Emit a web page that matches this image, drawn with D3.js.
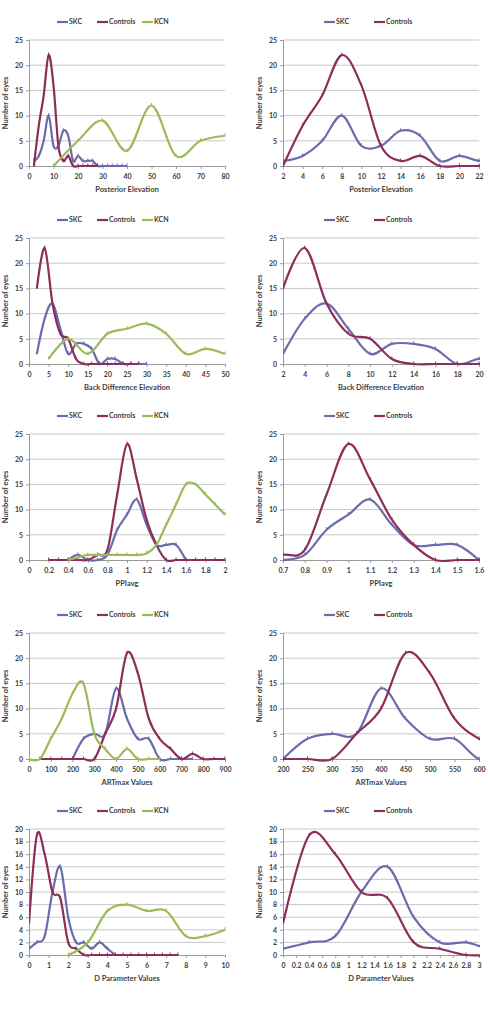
<!DOCTYPE html>
<html>
<head>
<meta charset="utf-8">
<script src="https://cdn.jsdelivr.net/npm/d3@7"></script>
<style>
  body { margin: 0; background: #fff; }
  text { font-family: Lato, "Liberation Sans", Arial, sans-serif; font-weight: bold; fill: #404040; }
</style>
</head>
<body>
<div id="chart"></div>
<script>
// ---------- data ----------
// Posterior Elevation
var peSkcX  = [2,4,6,8,10,12,14,16,18,20,22,24,26,28,30,32,34,36,38,40];
var peSkc   = [1,2,5,10,4,4,7,6,1,2,1,1,1,0,0,0,0,0,0,0];
var peCtrlX = [2,4,6,8,10,12,14,16,18,20,22,24,26,28];
var peCtrl  = [0,8,14,22,16,4,1,2,0,0,0,0,0,0];
var peKcnX  = [10,20,30,40,50,60,70,80];
var peKcn   = [0,5,9,3,12,2,5,6];

// Back Difference Elevation
var bdSkcX  = [2,4,6,8,10,12,14,16,18,20,22,24,26,28,30];
var bdSkc   = [2,9,12,7,2,4,4,3,0,1,1,0,0,0,0];
var bdCtrlX = [2,4,6,8,10,12,14,16,18,20,22,24,26,28];
var bdCtrl  = [15,23,12,6,5,1,0,0,0,0,0,0,0,0];
var bdKcnX  = [5,10,15,20,25,30,35,40,45,50];
var bdKcn   = [1,5,2,6,7,8,6,2,3,2];

// PPIavg
var ppSkcX  = [0.4,0.5,0.6,0.7,0.8,0.9,1.0,1.1,1.2,1.3,1.4,1.5,1.6];
var ppSkc   = [0,1,0,0,1,6,9,12,7,3,3,3,0];
var ppCtrlX = [0.2,0.3,0.4,0.5,0.6,0.7,0.8,0.9,1.0,1.1,1.2,1.3,1.4,1.5,1.6,1.7,1.8,1.9,2.0];
var ppCtrl  = [0,0,0,0,0,1,2,13,23,16,8,3,0,0,0,0,0,0,0];
var ppKcnX  = [0.4,0.5,0.6,0.7,0.8,0.9,1.0,1.1,1.2,1.3,1.4,1.5,1.6,1.7,1.8,1.9,2.0];
var ppKcn   = [0,0.5,1,1,1,1,1,1,1.3,3,7,11,15,15,13,11,9];

// ARTmax Values
var arSkcX  = [200,250,300,350,400,450,500,550,600,650,700,750];
var arSkc   = [0,4,5,5,14,8,4,4,0,0,0,0];
var arCtrlX = [50,100,150,200,250,300,350,400,450,500,550,600,650,700,750,800,850,900];
var arCtrl  = [0,0,0,0,0,0,5,10,21,17,8,4,2,0,1,0,0,0];
var arKcnX  = [0,50,100,150,200,250,300,350,400,450,500,550,600];
var arKcn   = [0,0,4,8,13,15,5,2,0,2,0,0,0];

// D Parameter Values
var dpSkcX  = [0,0.4,0.8,1.2,1.6,2.0,2.4,2.8,3.2,3.6,4.0,4.4];
var dpSkc   = [1,2,3,10,14,6,2,2,1,2,1,0];
var dpCtrlX = [0,0.4,0.8,1.2,1.6,2.0,2.4,2.8,3.2,3.6,4.0,4.4,4.8,5.2,5.6,6.0,6.4,6.8,7.2,7.6];
var dpCtrl  = [5,19,16,10,9,2,1,0,0,0,0,0,0,0,0,0,0,0,0,0];
var dpKcnX  = [2,3,4,5,6,7,8,9,10];
var dpKcn   = [0,2,7,8,7,7,3,3,4];

// tick labels
var peTicksL = [0,10,20,30,40,50,60,70,80];
var peTicksR = [2,4,6,8,10,12,14,16,18,20,22];
var bdTicksL = [0,5,10,15,20,25,30,35,40,45,50];
var bdTicksR = [2,4,6,8,10,12,14,16,18,20];
var ppTicksL = [0,0.2,0.4,0.6,0.8,1,1.2,1.4,1.6,1.8,2];
var ppTicksR = [0.7,0.8,0.9,1,1.1,1.2,1.3,1.4,1.5,1.6];
var arTicksL = [0,100,200,300,400,500,600,700,800,900];
var arTicksR = [200,250,300,350,400,450,500,550,600];
var dpTicksL = [0,1,2,3,4,5,6,7,8,9,10];
var dpTicksR = [0,0.2,0.4,0.6,0.8,1,1.2,1.4,1.6,1.8,2,2.2,2.4,2.6,2.8,3];
var yTicks25 = [0,5,10,15,20,25];
var yTicks20 = [0,2,4,6,8,10,12,14,16,18,20];

var colSkc = "#6b6bad", colCtrl = "#8c2d5a", colKcn = "#9bbb59";

function zip(xs, ys) { return xs.map(function(x, i){ return {x: x, y: ys[i]}; }); }

var rows = [
  {title: "Posterior Elevation", skc: zip(peSkcX, peSkc), ctrl: zip(peCtrlX, peCtrl), kcn: zip(peKcnX, peKcn), tl: peTicksL, tr: peTicksR, yt: yTicks25},
  {title: "Back Difference Elevation", skc: zip(bdSkcX, bdSkc), ctrl: zip(bdCtrlX, bdCtrl), kcn: zip(bdKcnX, bdKcn), tl: bdTicksL, tr: bdTicksR, yt: yTicks25},
  {title: "PPIavg", skc: zip(ppSkcX, ppSkc), ctrl: zip(ppCtrlX, ppCtrl), kcn: zip(ppKcnX, ppKcn), tl: ppTicksL, tr: ppTicksR, yt: yTicks25},
  {title: "ARTmax Values", skc: zip(arSkcX, arSkc), ctrl: zip(arCtrlX, arCtrl), kcn: zip(arKcnX, arKcn), tl: arTicksL, tr: arTicksR, yt: yTicks25},
  {title: "D  Parameter Values", skc: zip(dpSkcX, dpSkc), ctrl: zip(dpCtrlX, dpCtrl), kcn: zip(dpKcnX, dpKcn), tl: dpTicksL, tr: dpTicksR, yt: yTicks20}
];

// layout
var width = 488, height = 1012;
var rowTops = [40, 238, 434, 633, 829], plotH = 126;
var cols = [{x0: 29, x1: 225, left: true}, {x0: 283, x1: 479, left: false}];

var svg = d3.select("#chart").append("svg")
  .attr("width", width).attr("height", height);

var fmt = function(d){ return String(+d.toFixed(2)); };
var clipId = 0;

rows.forEach(function(row, ri) {
  var top = rowTops[ri], bottom = top + plotH;
  cols.forEach(function(c) {
    var ticks = c.left ? row.tl : row.tr;
    var x = d3.scaleLinear().domain([ticks[0], ticks[ticks.length-1]]).range([c.x0, c.x1]);
    var y = d3.scaleLinear().domain([0, row.yt[row.yt.length-1]]).range([bottom, top]);
    var g = svg.append("g");

    // gridlines
    g.selectAll(".grid").data(row.yt.slice(1)).enter().append("line")
      .attr("x1", c.x0).attr("x2", c.x1)
      .attr("y1", function(d){ return y(d); }).attr("y2", function(d){ return y(d); })
      .attr("stroke", "#c8c8c8").attr("stroke-width", 1);

    // axes
    var ax = g.append("g").attr("transform", "translate(0," + bottom + ")")
      .call(d3.axisBottom(x).tickValues(ticks).tickSize(3).tickFormat(fmt));
    var ay = g.append("g").attr("transform", "translate(" + c.x0 + ",0)")
      .call(d3.axisLeft(y).tickValues(row.yt).tickSize(3).tickFormat(fmt));
    [ax, ay].forEach(function(a){
      a.select(".domain").attr("stroke", "#9a9a9a");
      a.selectAll(".tick line").attr("stroke", "#9a9a9a");
      a.selectAll("text").attr("font-size", 7).attr("font-family", null).attr("fill", "#333");
    });
    ax.selectAll("text").attr("dy", "0.95em");

    // titles
    g.append("text").attr("x", (c.x0 + c.x1) / 2).attr("y", bottom + 26)
      .attr("text-anchor", "middle").attr("font-size", 7.5).text(row.title);
    g.append("text")
      .attr("transform", "translate(" + (c.x0 - 21) + "," + ((top + bottom) / 2) + ") rotate(-90)")
      .attr("text-anchor", "middle").attr("font-size", 7.5).text("Number of eyes");

    // series
    var id = "clip" + (clipId++);
    svg.append("clipPath").attr("id", id).append("rect")
      .attr("x", c.x0).attr("y", top - 10).attr("width", c.x1 - c.x0 + 1).attr("height", plotH + 15);
    var series = c.left
      ? [{name: "SKC", data: row.skc, col: colSkc}, {name: "Controls", data: row.ctrl, col: colCtrl}, {name: "KCN", data: row.kcn, col: colKcn}]
      : [{name: "SKC", data: row.skc, col: colSkc}, {name: "Controls", data: row.ctrl, col: colCtrl}];
    var line = d3.line().x(function(d){ return x(d.x); }).y(function(d){ return y(d.y); })
      .curve(d3.curveCardinal.tension(0));
    var sg = g.append("g").attr("clip-path", "url(#" + id + ")");
    series.forEach(function(s) {
      sg.append("path").datum(s.data).attr("d", line)
        .attr("fill", "none").attr("stroke", s.col).attr("stroke-width", 2.2)
        .attr("stroke-linejoin", "round");
      sg.selectAll(null).data(s.data).enter().append("line")
        .attr("x1", function(d){ return x(d.x); }).attr("x2", function(d){ return x(d.x); })
        .attr("y1", function(d){ return y(d.y) - 2.5; }).attr("y2", function(d){ return y(d.y) + 0.5; })
        .attr("stroke", s.col).attr("stroke-width", 1);
    });

    // legend
    var legX = c.left ? [28, 68, 113] : [41, 91];
    var ly = top - 18;
    series.forEach(function(s, i) {
      var lx = c.x0 + legX[i];
      g.append("line").attr("x1", lx).attr("x2", lx + 11).attr("y1", ly).attr("y2", ly)
        .attr("stroke", s.col).attr("stroke-width", 2.2);
      g.append("text").attr("x", lx + 12).attr("y", ly).attr("dy", "0.35em")
        .attr("font-size", 7).text(s.name);
    });
  });
});
</script>
</body>
</html>
